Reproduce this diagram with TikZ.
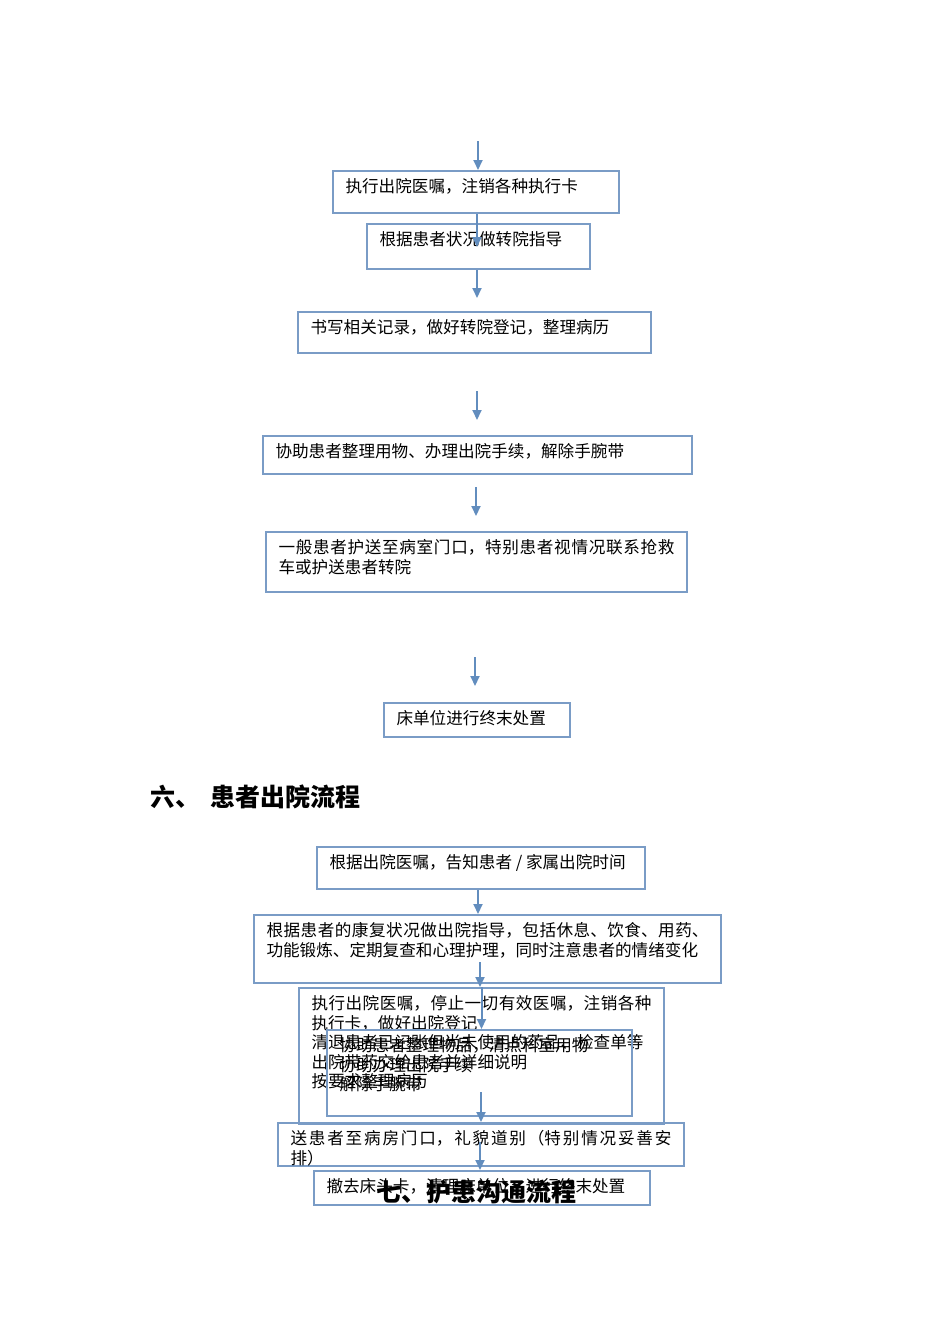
\documentclass[tikz,border=0pt]{standalone}
\usepackage{fontspec}
\setmainfont{Noto Sans CJK SC}
\usetikzlibrary{arrows.meta}

\XeTeXlinebreaklocale "zh"
\XeTeXlinebreakskip=0pt plus 2pt

\definecolor{boxline}{RGB}{122,156,198}
\definecolor{arrline}{RGB}{98,141,190}

\tikzset{
  box/.style={draw=boxline, line width=2pt, anchor=north west, inner xsep=12.5pt, inner ysep=7.5pt,
              font=\fontsize{16.6}{19.5}\selectfont},
  arr/.style={draw=arrline, line width=2pt, -{Triangle[width=9pt,length=10pt]}},
  title/.style={font=\fontsize{25}{30}\selectfont\bfseries, inner sep=0pt}
}

\begin{document}
\begin{tikzpicture}[x=1pt,y=-1pt]
  \useasboundingbox (0,0) rectangle (950,1344);

  % transfer steps
  \node[box] (b1) at (332,170) {\parbox[c][27pt][t]{261pt}{执行出院医嘱，注销各种执行卡}};
  \node[box] (b2) at (366,223) {\parbox[c][30pt][t]{198pt}{根据患者状况做转院指导}};
  \node[box] (b3) at (297,311) {\parbox[c][26pt][t]{328pt}{书写相关记录，做好转院登记，整理病历}};
  \node[box] (b4) at (262,435) {\parbox[c][23pt][t]{404pt}{协助患者整理用物、办理出院手续，解除手腕带}};
  \node[box] (b5) at (265,531) {\parbox[c][45pt][t]{396pt}{一般患者护送至病室门口，特别患者视情况联系抢救车或护送患者转院}};
  \node[box] (b6) at (383,702) {\parbox[c][19pt][t]{161pt}{床单位进行终末处置}};

  \coordinate (t1) at (478,141);
  \coordinate (t4) at (477,391);
  \coordinate (t5) at (476,487);
  \coordinate (t6) at (475,657);
  \draw[arr] (t1) -- (t1 |- b1.north); % into first box
  \draw[arr] ([xshift=1pt]b1.south) -- ++(0,33);
  \draw[arr] ([xshift=-1.5pt]b2.south) -- ++(0,28);
  \draw[arr] (t4) -- ++(0,29);
  \draw[arr] (t5) -- ++(0,29);
  \draw[arr] (t6) -- ++(0,29);

  % section six
  \node[title, anchor=west] (h6) at (150,797) {六、\hspace{10pt}患者出院流程};

  \node[box] (c1) at (316,846) {\parbox[c][27pt][t]{303pt}{根据出院医嘱，告知患者 / 家属出院时间}};
  \node[box] (c2) at (253,914) {\parbox[c][53pt][t]{442pt}{根据患者的康复状况做出院指导，包括休息、饮食、用药、功能锻炼、定期复查和心理护理，同时注意患者的情绪变化}};
  \node[box] (c3) at (298,987) {\parbox[c][121pt][t]{340pt}{执行出院医嘱，停止一切有效医嘱，注销各种执行卡，做好出院登记\par
    清退患者已记账但尚未使用的药品、检查单等\par
    出院带药交给患者并详细说明\par
    按要求整理病历}};
  \node[box] (c4) at (326,1029) {\parbox[c][71pt][t]{280pt}{协助患者整理物品，清点科室用物\par
    协助办理出院手续\par
    解除手腕带}};
  \node[box] (c5) at (277,1122) {\parbox[c][28pt][t]{381pt}{送患者至病房门口，礼貌道别（特别情况妥善安\linebreak 排）}};
  \node[box] (c6) at (313,1170) {\parbox[c][19pt][t]{311pt}{撤去床头卡，清理床单位，进行终末处置}};

  \coordinate (t7) at (480,962);
  \coordinate (t9) at (481,1092);
  \coordinate (t10) at (480,1142);
  \draw[arr] ([xshift=-3pt]c1.south) -- ([xshift=-3pt]c1.south |- c2.north);
  \draw[arr] (t7) -- (t7 |- c3.north);
  \draw[arr] (c3.north) -- (c3.north |- c4.north);
  \draw[arr] (t9) -- (t9 |- c5.north);
  \draw[arr] (t10) -- (t10 |- c6.north);

  % section seven heading
  \node[title] (h7) at (476,1192) {七、护患沟通流程};
\end{tikzpicture}
\end{document}
